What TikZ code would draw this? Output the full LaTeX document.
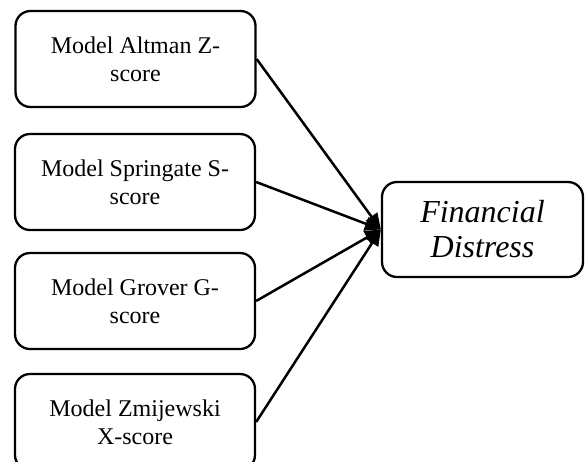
\documentclass[tikz,border=0pt]{standalone}
\usepackage{fontspec}
\setmainfont{Liberation Serif}
\usetikzlibrary{arrows.meta}
\begin{document}
\begin{tikzpicture}[x=1pt,y=-1pt,
  modelbox/.style={draw, line width=2.3pt, rounded corners=15pt,
    minimum width=240pt, minimum height=96pt, align=center,
    font=\fontsize{24}{27.6}\selectfont, inner sep=0pt},
  targetbox/.style={draw, line width=2.3pt, rounded corners=15pt,
    minimum width=201pt, minimum height=95pt, align=center,
    font=\fontsize{32}{35}\selectfont\itshape, inner sep=0pt},
  link/.style={line width=2.5pt, -{Triangle[length=16pt,width=14pt]}}]
\useasboundingbox (0,0) rectangle (585,461);
\node[modelbox] (altman) at (135.5,59) {Model Altman Z-\\score};
\node[modelbox] (springate) at (135,182) {Model Springate S-\\score};
\node[modelbox] (grover) at (135,301) {Model Grover G-\\score};
\node[modelbox] (zmij) at (135,422) {Model Zmijewski\\X-score};
\node[targetbox] (fd) at (482.5,229.5) {Financial\\Distress};
\foreach \src in {altman,springate,grover,zmij}
  \draw[link] (\src.east) -- (fd.west);
\end{tikzpicture}
\end{document}
